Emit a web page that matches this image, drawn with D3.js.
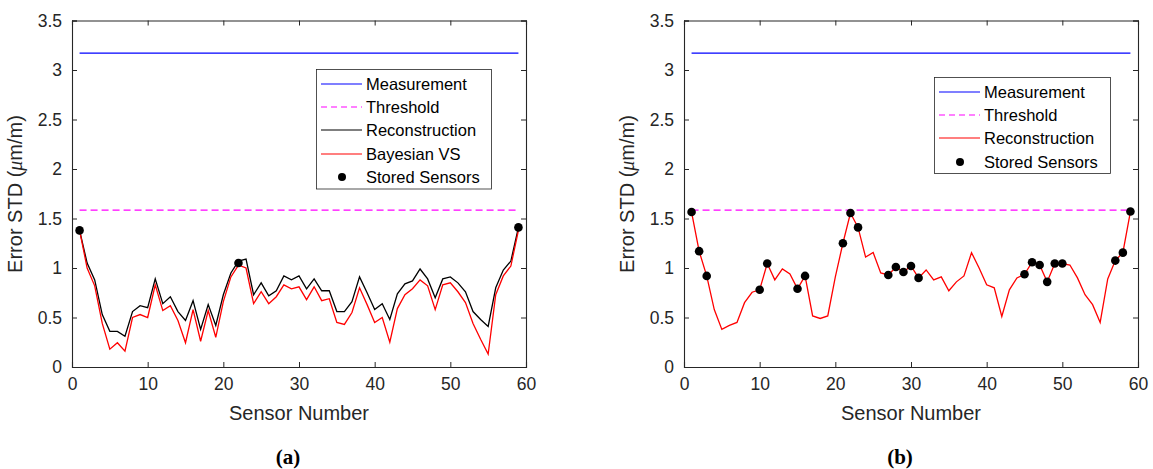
<!DOCTYPE html>
<html lang="en">
<head>
  <meta charset="UTF-8">
  <title>Error STD per sensor</title>
  <script src="https://d3js.org/d3.v7.min.js"></script>
  <style>
    body { margin: 0; background: #fff; }
    text { font-family: Arial, "Liberation Sans", sans-serif; fill: #262626; }
    .axis path, .axis line { stroke: #262626; }
    .caption { font-family: "Liberation Serif", "DejaVu Serif", serif; font-weight: bold; fill: #000; }
  </style>
</head>
<body>
<svg id="chart" width="1153" height="469"></svg>
<script>
  // Data
  const sensors = d3.range(1, 60);
  const measurement = 3.17;
  const threshold = 1.585;

  // (a)
  const reconA = [1.38, 1.05, 0.88, 0.53, 0.36, 0.36, 0.31, 0.56, 0.62, 0.60,
                  0.89, 0.64, 0.71, 0.56, 0.47, 0.67, 0.38, 0.63, 0.42, 0.73,
                  0.95, 1.07, 1.09, 0.73, 0.85, 0.72, 0.77, 0.92, 0.88, 0.92,
                  0.79, 0.89, 0.77, 0.77, 0.56, 0.56, 0.66, 0.91, 0.75, 0.58,
                  0.64, 0.48, 0.74, 0.84, 0.87, 0.99, 0.89, 0.70, 0.89, 0.91,
                  0.85, 0.76, 0.56, 0.48, 0.41, 0.80, 0.98, 1.07, 1.41];
  const bayesA = [1.38, 1.00, 0.82, 0.44, 0.18, 0.245, 0.16, 0.50, 0.53, 0.50,
                  0.83, 0.57, 0.62, 0.47, 0.245, 0.58, 0.26, 0.57, 0.30, 0.66,
                  0.91, 1.03, 1.00, 0.64, 0.76, 0.64, 0.71, 0.83, 0.79, 0.81,
                  0.68, 0.81, 0.67, 0.69, 0.45, 0.43, 0.55, 0.80, 0.63, 0.45,
                  0.50, 0.25, 0.59, 0.73, 0.79, 0.88, 0.82, 0.58, 0.83, 0.85,
                  0.76, 0.65, 0.44, 0.28, 0.13, 0.73, 0.92, 1.02, 1.38];
  const storedA = [1, 22, 59];
  const storedAValues = [1.38, 1.05, 1.41];

  // (b)
  const reconB = [1.565, 1.17, 0.92, 0.58, 0.38, 0.42, 0.45, 0.65, 0.755, 0.78,
                  1.045, 0.88, 0.99, 0.94, 0.79, 0.92, 0.516, 0.49, 0.516, 0.91,
                  1.25, 1.555, 1.41, 1.11, 1.156, 0.95, 0.93, 1.01, 0.96, 1.02,
                  0.90, 0.98, 0.88, 0.91, 0.77, 0.86, 0.92, 1.155, 1.0, 0.83,
                  0.80, 0.51, 0.78, 0.90, 0.937, 1.058, 1.03, 0.86, 1.045, 1.045,
                  1.03, 0.90, 0.73, 0.63, 0.45, 0.89, 1.075, 1.155, 1.57];
  const storedB = [1, 2, 3, 10, 11, 15, 16, 21, 22, 23, 27, 28, 29, 30, 31,
                   45, 46, 47, 48, 49, 50, 57, 58, 59];

  const xTicks = [0, 10, 20, 30, 40, 50, 60];
  const yTicks = [0, 0.5, 1, 1.5, 2, 2.5, 3, 3.5];

  const svg = d3.select("#chart");

  function drawPanel(opts) {
    const g = svg.append("g");
    const x = d3.scaleLinear().domain([0, 60]).range([opts.left, opts.left + 454]);
    const y = d3.scaleLinear().domain([0, 3.5]).range([367, 20.5]);

    // axes with inward ticks on all four sides
    const tk = 5;
    g.append("g").attr("class", "axis").attr("transform", "translate(0,367)")
      .call(d3.axisBottom(x).tickValues(xTicks).tickSize(-tk).tickPadding(10).tickFormat(d3.format("d")))
      .call(a => a.selectAll("text").attr("font-size", 17.5).attr("dy", "0.75em"));
    g.append("g").attr("class", "axis").attr("transform", "translate(0,20.5)")
      .call(d3.axisTop(x).tickValues(xTicks).tickSize(-tk).tickFormat(""));
    g.append("g").attr("class", "axis").attr("transform", `translate(${opts.left},0)`)
      .call(d3.axisLeft(y).tickValues(yTicks).tickSize(-tk).tickPadding(10).tickFormat(d => d3.format("")(d)))
      .call(a => a.selectAll("text").attr("font-size", 17.5));
    g.append("g").attr("class", "axis").attr("transform", `translate(${opts.left + 454},0)`)
      .call(d3.axisRight(y).tickValues(yTicks).tickSize(-tk).tickFormat(""));
    g.selectAll(".axis path").attr("stroke-width", 1.1);
    g.selectAll(".axis line").attr("stroke-width", 1);

    // axis labels
    g.append("text").attr("x", opts.left + 227).attr("y", 420)
      .attr("text-anchor", "middle").attr("font-size", 20).text("Sensor Number");
    const yl = g.append("text")
      .attr("transform", `translate(${opts.left - 50},194) rotate(-90)`)
      .attr("text-anchor", "middle").attr("font-size", 20);
    yl.append("tspan").text("Error STD (");
    yl.append("tspan").attr("font-style", "italic")
      .attr("font-family", "'Liberation Serif', 'DejaVu Serif', serif").text("μ");
    yl.append("tspan").text("m/m)");

    g.append("text").attr("class", "caption").attr("x", opts.left + 216).attr("y", 464)
      .attr("text-anchor", "middle").attr("font-size", 21).text(opts.caption);

    const line = d3.line().x((d, i) => x(sensors[i])).y(d => y(d));

    // measurement & threshold
    g.append("line").attr("x1", x(1)).attr("x2", x(59))
      .attr("y1", y(measurement)).attr("y2", y(measurement))
      .style("stroke", "#0000ff").attr("stroke-width", 1.2);
    g.append("line").attr("x1", x(1)).attr("x2", x(59))
      .attr("y1", y(threshold)).attr("y2", y(threshold))
      .style("stroke", "#ff00ff").attr("stroke-width", 1.2).attr("stroke-dasharray", "7,4");

    opts.series.forEach(s => {
      g.append("path").datum(s.values).attr("d", line)
        .attr("fill", "none").style("stroke", s.color).attr("stroke-width", 1.3);
    });

    g.selectAll(".dot").data(opts.dots).enter().append("circle")
      .attr("cx", d => x(d[0])).attr("cy", d => y(d[1])).attr("r", 4.3).attr("fill", "#000");

    // legend
    const lg = g.append("g");
    lg.append("rect").attr("x", opts.legend.x + 0.5).attr("y", opts.legend.y + 0.5)
      .attr("width", opts.legend.w).attr("height", opts.legend.items.length * 23.5 + 2)
      .attr("fill", "#fff").style("stroke", "#262626").attr("stroke-width", 0.8);
    opts.legend.items.forEach((it, i) => {
      const cy = Math.round(opts.legend.y + 14.5 + i * 23.4);
      const lx = opts.legend.x + 5;
      if (it.type === "dot") {
        lg.append("circle").attr("cx", lx + 21).attr("cy", cy).attr("r", 4).attr("fill", "#000");
      } else {
        const ln = lg.append("line").attr("x1", lx).attr("x2", lx + 41).attr("y1", cy).attr("y2", cy)
          .style("stroke", it.color).attr("stroke-width", 1.2);
        if (it.dash) ln.attr("stroke-dasharray", "6,4");
      }
      lg.append("text").attr("x", lx + 45).attr("y", cy).attr("dy", "0.36em")
        .attr("font-size", 16.5).style("fill", "#000").text(it.label);
    });
  }

  drawPanel({
    left: 72, caption: "(a)",
    series: [{ values: reconA, color: "#000000" }, { values: bayesA, color: "#ff0000" }],
    dots: storedA.map((s, i) => [s, storedAValues[i]]),
    legend: { x: 316, y: 69, w: 175, items: [
      { label: "Measurement", color: "#0000ff" },
      { label: "Threshold", color: "#ff00ff", dash: true },
      { label: "Reconstruction", color: "#000000" },
      { label: "Bayesian VS", color: "#ff0000" },
      { label: "Stored Sensors", type: "dot" }] }
  });

  drawPanel({
    left: 684, caption: "(b)",
    series: [{ values: reconB, color: "#ff0000" }],
    dots: storedB.map(s => [s, reconB[s - 1]]),
    legend: { x: 934, y: 77, w: 176, items: [
      { label: "Measurement", color: "#0000ff" },
      { label: "Threshold", color: "#ff00ff", dash: true },
      { label: "Reconstruction", color: "#ff0000" },
      { label: "Stored Sensors", type: "dot" }] }
  });
</script>
</body>
</html>
